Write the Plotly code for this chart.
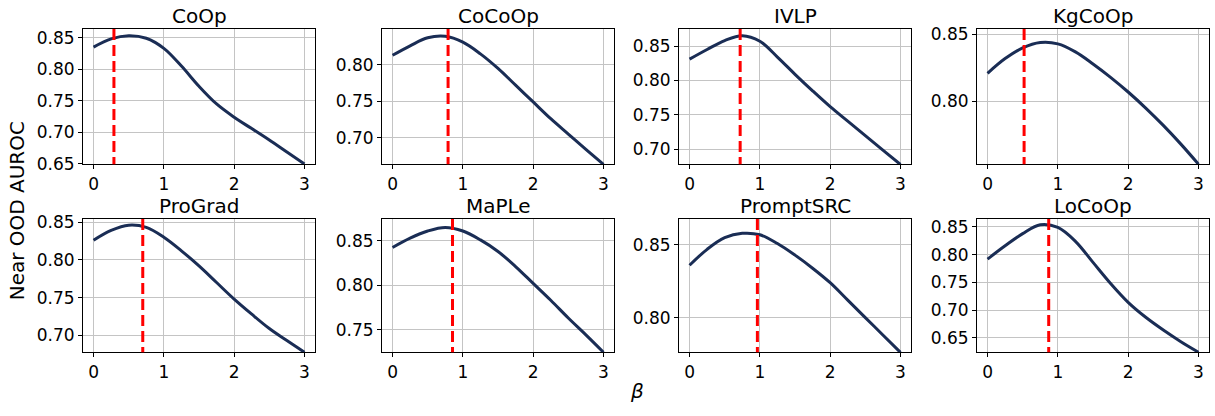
import plotly.graph_objects as go

beta = [0, 0.25, 0.5, 0.75, 1.0, 1.25, 1.5, 1.75, 2.0, 2.25, 2.5, 2.75, 3.0]

methods = ["CoOp", "CoCoOp", "IVLP", "KgCoOp", "ProGrad", "MaPLe", "PromptSRC", "LoCoOp"]

coop      = [0.835, 0.848, 0.853, 0.849, 0.833, 0.805, 0.773, 0.745, 0.724, 0.706, 0.688, 0.669, 0.650]
cocoop    = [0.813, 0.826, 0.837, 0.839, 0.831, 0.815, 0.795, 0.772, 0.749, 0.726, 0.705, 0.684, 0.6635]
ivlp      = [0.831, 0.845, 0.858, 0.865, 0.857, 0.834, 0.809, 0.785, 0.762, 0.741, 0.720, 0.699, 0.678]
kgcoop    = [0.821, 0.832, 0.840, 0.844, 0.843, 0.837, 0.828, 0.818, 0.807, 0.795, 0.782, 0.768, 0.753]
prograd   = [0.826, 0.839, 0.846, 0.843, 0.830, 0.812, 0.792, 0.770, 0.748, 0.728, 0.709, 0.693, 0.6775]
maple     = [0.8425, 0.853, 0.861, 0.865, 0.861, 0.851, 0.838, 0.821, 0.802, 0.783, 0.763, 0.744, 0.7244]
promptsrc = [0.836, 0.847, 0.855, 0.858, 0.857, 0.851, 0.843, 0.834, 0.824, 0.812, 0.800, 0.788, 0.776]
locoop    = [0.792, 0.816, 0.838, 0.854, 0.849, 0.824, 0.786, 0.748, 0.714, 0.687, 0.664, 0.643, 0.624]

series = [coop, cocoop, ivlp, kgcoop, prograd, maple, promptsrc, locoop]

best_beta = [0.29, 0.79, 0.72, 0.52, 0.70, 0.853, 0.965, 0.87]

y_ranges = [
    [0.6495, 0.8636],
    [0.6635, 0.8490],
    [0.6783, 0.8747],
    [0.7529, 0.8541],
    [0.6775, 0.8542],
    [0.7244, 0.8746],
    [0.7761, 0.8679],
    [0.6238, 0.8644],
]

W, H = 1215, 416
lefts = [83, 382, 679, 977]
pw = 232
rows_px = [(23, 164), (221, 360)]

FONT = "DejaVu Sans"
CURVE = "#1a2d55"

fig = go.Figure()
layout = dict(
    width=W, height=H,
    margin=dict(l=0, r=0, t=0, b=0),
    paper_bgcolor="white", plot_bgcolor="white",
    showlegend=False,
    font=dict(family=FONT, color="black", size=17),
)
annotations = []
shapes = []

for i, name in enumerate(methods):
    r, c = divmod(i, 4)
    k = i + 1
    xa = "xaxis" if k == 1 else f"xaxis{k}"
    ya = "yaxis" if k == 1 else f"yaxis{k}"
    xref = "x" if k == 1 else f"x{k}"
    yref = "y" if k == 1 else f"y{k}"
    x0 = lefts[c] / W
    x1 = (lefts[c] + pw) / W
    top, bot = rows_px[r]
    y1 = 1 - top / H
    y0 = 1 - bot / H
    layout[xa] = dict(
        domain=[x0, x1], anchor=yref, range=[-0.15, 3.15],
        tickvals=[0, 1, 2, 3], ticktext=["0", "1", "2", "3"],
        showgrid=True, gridcolor="#c4c4c4", gridwidth=1,
        showline=True, linecolor="black", linewidth=1, mirror=True,
        ticks="outside", ticklen=4, tickcolor="black",
        tickfont=dict(family=FONT, size=17), zeroline=False,
    )
    layout[ya] = dict(
        domain=[y0, y1], anchor=xref, range=y_ranges[i],
        dtick=0.05, tick0=0, tickformat=".2f",
        showgrid=True, gridcolor="#c4c4c4", gridwidth=1,
        showline=True, linecolor="black", linewidth=1, mirror=True,
        ticks="outside", ticklen=4, tickcolor="black",
        tickfont=dict(family=FONT, size=17), zeroline=False,
    )
    fig.add_trace(go.Scatter(
        x=beta, y=series[i], mode="lines",
        line=dict(color=CURVE, width=3, shape="spline", smoothing=1.0),
        xaxis=xref, yaxis=yref, hoverinfo="skip",
    ))
    shapes.append(dict(
        type="line", xref=xref, yref=f"{yref} domain",
        x0=best_beta[i], x1=best_beta[i], y0=1, y1=0,
        line=dict(color="#ff0000", width=3, dash="11px,5px"),
        layer="above",
    ))
    annotations.append(dict(
        text=name, x=(x0 + x1) / 2, y=y1, xref="paper", yref="paper",
        xanchor="center", yanchor="bottom", yshift=-1, showarrow=False,
        font=dict(family=FONT, size=20, color="black"),
    ))

annotations.append(dict(
    text="Near OOD AUROC", x=17 / W, y=1 - 213 / H, xref="paper", yref="paper",
    xanchor="center", yanchor="middle", textangle=-90, showarrow=False,
    font=dict(family=FONT, size=20, color="black"),
))
annotations.append(dict(
    text="<i>β</i>", x=637 / W, y=1 - 400 / H, xref="paper", yref="paper",
    xanchor="center", yanchor="middle", showarrow=False,
    font=dict(family=FONT, size=20, color="black"),
))

layout["annotations"] = annotations
layout["shapes"] = shapes
fig.update_layout(**layout)
fig.write_html("out.html")
